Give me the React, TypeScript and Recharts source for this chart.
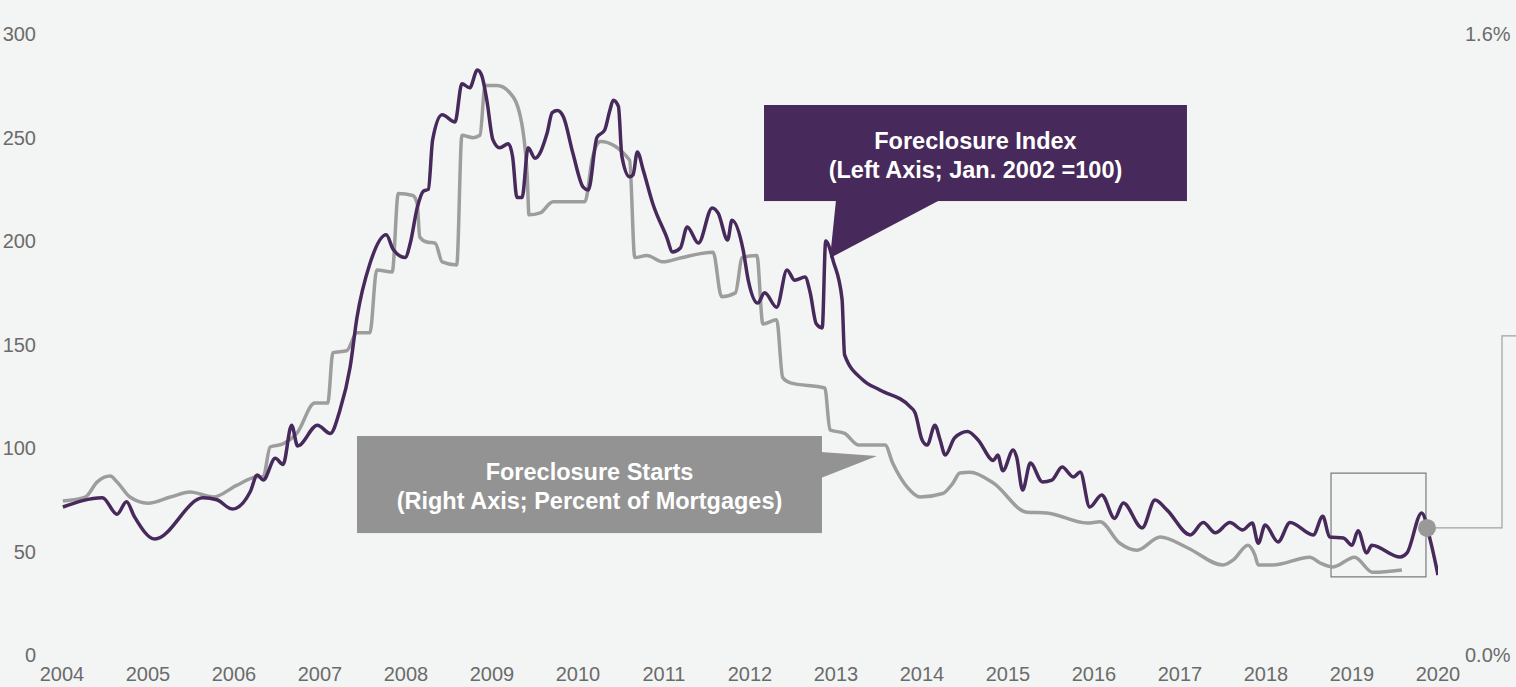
import React from "react";
import {
  LineChart,
  Line,
  XAxis,
  YAxis,
  ReferenceArea,
  ReferenceDot,
} from "recharts";

// Foreclosure index (left axis, Jan. 2002 = 100)
const indexYears = [
  2004.01, 2004.47, 2004.64, 2004.75, 2004.84, 2005.08, 2005.64, 2005.8, 2005.98, 2006.19,
  2006.27, 2006.34, 2006.48, 2006.57, 2006.67, 2006.74, 2006.97, 2007.12, 2007.23, 2007.35,
  2007.43, 2007.58, 2007.77, 2007.85, 2007.99, 2008.05, 2008.13, 2008.2, 2008.26, 2008.31,
  2008.42, 2008.57, 2008.65, 2008.74, 2008.83, 2008.88, 2008.94, 2009.01, 2009.09, 2009.19,
  2009.24, 2009.29, 2009.35, 2009.42, 2009.5, 2009.64, 2009.7, 2009.76, 2009.83, 2009.94,
  2010.06, 2010.12, 2010.22, 2010.31, 2010.37, 2010.41, 2010.47, 2010.51, 2010.6, 2010.64,
  2010.69, 2010.76, 2010.87, 2011.03, 2011.1, 2011.19, 2011.27, 2011.4, 2011.56, 2011.63,
  2011.74, 2011.79, 2011.92, 2011.98, 2012.09, 2012.17, 2012.31, 2012.43, 2012.52, 2012.64,
  2012.7, 2012.77, 2012.84, 2012.88, 2012.97, 2013.07, 2013.1, 2013.31, 2013.51, 2013.86,
  2013.92, 2014.0, 2014.06, 2014.15, 2014.21, 2014.27, 2014.38, 2014.53, 2014.65, 2014.83,
  2014.88, 2014.94, 2015.06, 2015.1, 2015.17, 2015.26, 2015.4, 2015.51, 2015.63, 2015.76,
  2015.84, 2015.95, 2016.09, 2016.24, 2016.34, 2016.56, 2016.71, 2016.85, 2017.12, 2017.27,
  2017.41, 2017.58, 2017.73, 2017.84, 2017.91, 2017.99, 2018.14, 2018.28, 2018.55, 2018.66,
  2018.74, 2018.9, 2019.0, 2019.07, 2019.17, 2019.23, 2019.56, 2019.64, 2019.81, 2019.91,
  2020.0,
];
const indexValues = [
  71.5, 76, 68, 74, 67, 56, 76, 75, 70.5, 79,
  87, 84.5, 95, 92, 111, 101, 111, 107, 118, 139,
  163, 189, 203, 196, 192, 199, 216, 224, 225, 249,
  261, 257.5, 276, 274, 282.6, 280, 268, 249, 245, 247,
  240.6, 221, 221, 245, 240, 252, 262, 263, 260, 242.5,
  226, 224.6, 250, 253.6, 263, 268, 265, 241, 231, 232,
  243, 234, 218, 202, 194.7, 196.6, 206.8, 199, 216, 213.5,
  200.5, 210, 195.7, 181, 170, 175, 168, 186, 181, 182.6,
  175, 160, 158, 200, 190, 172, 145, 133, 128, 120,
  117, 104, 101.4, 111, 104, 96.6, 105, 108, 104, 94,
  96.6, 89, 99, 95.6, 79.7, 92.7, 83.6, 84.5, 90.8, 86,
  88.4, 71.5, 77.3, 66, 73.4, 61.4, 74.9, 70, 58, 64,
  59, 64, 60.4, 63.8, 54, 62.8, 54.6, 64, 58, 67,
  57, 56.5, 53, 60, 49.3, 53, 47.3, 49.3, 68.6, 55.5,
  38.6,
];

// Foreclosure starts (right axis, percent of mortgages)
const startsYears = [
  2004.01, 2004.27, 2004.41, 2004.56, 2004.64, 2004.79, 2005.0, 2005.26, 2005.49, 2005.76,
  2006.03, 2006.27, 2006.34, 2006.42, 2006.57, 2006.73, 2006.94, 2007.09, 2007.15, 2007.31,
  2007.43, 2007.58, 2007.66, 2007.84, 2007.91, 2008.08, 2008.13, 2008.16, 2008.24, 2008.34,
  2008.42, 2008.59, 2008.65, 2008.78, 2008.86, 2008.92, 2009.06, 2009.21, 2009.33, 2009.41,
  2009.43, 2009.56, 2009.71, 2010.08, 2010.17, 2010.26, 2010.6, 2010.66, 2010.8, 2010.99,
  2011.19, 2011.57, 2011.67, 2011.83, 2011.91, 2012.08, 2012.15, 2012.31, 2012.38, 2012.47,
  2012.87, 2012.93, 2013.1, 2013.26, 2013.43, 2013.57, 2013.66, 2013.83, 2013.98, 2014.24,
  2014.36, 2014.44, 2014.56, 2014.83, 2015.22, 2015.45, 2015.92, 2016.07, 2016.3, 2016.5,
  2016.77, 2017.08, 2017.5, 2017.62, 2017.79, 2017.87, 2017.91, 2018.08, 2018.51, 2018.63,
  2018.78, 2019.03, 2019.24, 2019.58,
];
const startsValues = [
  0.397, 0.407, 0.446, 0.461, 0.446, 0.407, 0.391, 0.407, 0.42, 0.407,
  0.437, 0.459, 0.459, 0.536, 0.544, 0.571, 0.649, 0.649, 0.779, 0.784,
  0.83, 0.83, 0.992, 0.987, 1.189, 1.184, 1.163, 1.077, 1.064, 1.061,
  1.013, 1.005, 1.339, 1.333, 1.339, 1.467, 1.467, 1.448, 1.387, 1.232,
  1.134, 1.139, 1.168, 1.168, 1.283, 1.323, 1.275, 1.024, 1.029, 1.013,
  1.023, 1.038, 0.923, 0.933, 1.024, 1.029, 0.853, 0.864, 0.715, 0.701,
  0.688, 0.58, 0.571, 0.541, 0.541, 0.541, 0.494, 0.432, 0.407, 0.416,
  0.443, 0.469, 0.471, 0.443, 0.368, 0.366, 0.34, 0.343, 0.288, 0.27,
  0.304, 0.277, 0.232, 0.245, 0.283, 0.258, 0.232, 0.232, 0.252, 0.237,
  0.227, 0.252, 0.213, 0.219,
];

const yearTicks = [
  2004, 2005, 2006, 2007, 2008, 2009, 2010, 2011, 2012, 2013, 2014, 2015, 2016, 2017, 2018, 2019, 2020,
];
const leftTicks = [0, 50, 100, 150, 200, 250, 300];
const rightTicks = [0, 1.6];

const indexLabel = ["Foreclosure Index", "(Left Axis; Jan. 2002 =100)"];
const startsLabel = ["Foreclosure Starts", "(Right Axis; Percent of Mortgages)"];

const PURPLE = "#472a5b";
const GREY_LINE = "#9d9d9d";
const GREY_BOX = "#939393";
const FONT = "'Liberation Sans', Arial, Helvetica, sans-serif";

const indexData = indexYears.map((t, i) => ({ t, v: indexValues[i] }));
const startsData = startsYears.map((t, i) => ({ t, p: startsValues[i] }));

const tickStyle = { fill: "#6b6b6b", fontSize: 20, fontFamily: FONT };

// purple callout box with pointer going down-left
const IndexCallout = (props: any) => {
  const { x, y, width, height } = props;
  const b = y + height;
  return (
    <g>
      <rect x={x} y={y} width={width} height={height} fill={PURPLE} />
      <polygon points={`${x + 72},${b - 1} ${x + 66},${b + 57} ${x + 176},${b - 1}`} fill={PURPLE} />
      {indexLabel.map((s, i) => (
        <text key={i} x={x + width / 2} y={y + 44 + i * 29} textAnchor="middle" fill="#fff"
          fontWeight="bold" fontSize={23.5} fontFamily={FONT}>
          {s}
        </text>
      ))}
    </g>
  );
};

// grey callout box with pointer going right
const StartsCallout = (props: any) => {
  const { x, y, width, height } = props;
  const r = x + width;
  return (
    <g>
      <rect x={x} y={y} width={width} height={height} fill={GREY_BOX} />
      <polygon points={`${r - 1},${y + 16} ${r + 55},${y + 20} ${r - 1},${y + 42}`} fill={GREY_BOX} />
      {startsLabel.map((s, i) => (
        <text key={i} x={x + width / 2} y={y + 44 + i * 29} textAnchor="middle" fill="#fff"
          fontWeight="bold" fontSize={23.5} fontFamily={FONT}>
          {s}
        </text>
      ))}
    </g>
  );
};

// dot with elbow connector running off to the right
const DotConnector = (props: any) => {
  const { cx, cy } = props;
  return (
    <g>
      <path d={`M${cx},${cy} H${cx + 75} V${cy - 192} H${cx + 95}`} fill="none" stroke="#a0a0a0" strokeWidth={1.2} />
      <circle cx={cx} cy={cy} r={9} fill="#999" />
    </g>
  );
};

export default function App() {
  return (
    <div style={{ position: "absolute", left: 0, top: 0, width: 1516, height: 687, background: "#f3f5f4" }}>
      <LineChart width={1516} height={687} margin={{ top: 34, right: 0, bottom: 0, left: 0 }}>
        <XAxis
          dataKey="t"
          type="number"
          domain={[2004, 2020]}
          ticks={yearTicks}
          interval={0}
          allowDataOverflow
          axisLine={false}
          tickLine={false}
          tickSize={0}
          tickMargin={12}
          height={32}
          tick={tickStyle}
        />
        <YAxis
          yAxisId="left"
          domain={[0, 300]}
          ticks={leftTicks}
          interval={0}
          axisLine={false}
          tickLine={false}
          tickSize={0}
          tickMargin={26}
          width={62}
          tick={tickStyle}
        />
        <YAxis
          yAxisId="right"
          orientation="right"
          domain={[0, 1.6]}
          ticks={rightTicks}
          interval={0}
          axisLine={false}
          tickLine={false}
          tickSize={0}
          tickMargin={27}
          width={78}
          tick={tickStyle}
          tickFormatter={(v: number) => v.toFixed(1) + "%"}
        />
        <Line
          yAxisId="right"
          data={startsData}
          dataKey="p"
          type="monotone"
          stroke={GREY_LINE}
          strokeWidth={3.5}
          dot={false}
          activeDot={false}
          isAnimationActive={false}
        />
        <Line
          yAxisId="left"
          data={indexData}
          dataKey="v"
          type="monotone"
          stroke={PURPLE}
          strokeWidth={3.5}
          dot={false}
          activeDot={false}
          isAnimationActive={false}
        />
        <ReferenceArea
          yAxisId="left"
          x1={2018.756}
          x2={2019.86}
          y1={37.7}
          y2={87.9}
          fill="none"
          stroke="#7a7a7a"
          strokeWidth={1.2}
          ifOverflow="visible"
        />
        <ReferenceDot yAxisId="left" x={2019.872} y={61.4} r={9} ifOverflow="visible" shape={DotConnector} />
        <ReferenceArea
          yAxisId="left"
          x1={2012.163}
          x2={2017.081}
          y1={219.3}
          y2={265.7}
          ifOverflow="visible"
          shape={IndexCallout}
        />
        <ReferenceArea
          yAxisId="left"
          x1={2007.43}
          x2={2012.837}
          y1={58.9}
          y2={105.8}
          ifOverflow="visible"
          shape={StartsCallout}
        />
      </LineChart>
    </div>
  );
}
